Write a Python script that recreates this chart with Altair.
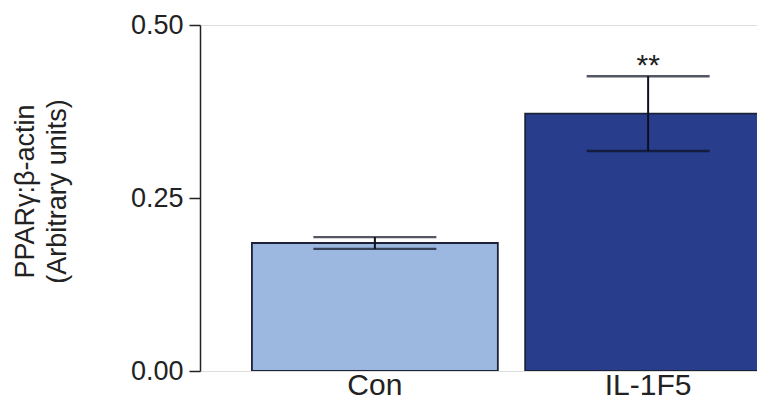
import altair as alt
import pandas as pd

groups = ["Con", "IL-1F5"]
means = [0.185, 0.372]
sems = [0.0085, 0.054]
stars = ["", "**"]
colors = ["#9db8e0", "#283d8c"]

df = pd.DataFrame({"group": groups, "mean": means, "sem": sems,
                   "star": stars, "color": colors})
df["lo"] = df["mean"] - df["sem"]
df["hi"] = df["mean"] + df["sem"]

FONT = "Liberation Sans"
INK = "#222222"

xscale = alt.Scale(domain=groups, range=[0, 623], paddingInner=0.1, paddingOuter=0.19)
xaxis = alt.Axis(title=None, labelAngle=0, ticks=False, tickSize=0, domain=False,
                 labelFontSize=30, labelPadding=23, labelBaseline="alphabetic",
                 labelFont=FONT, labelColor=INK, labelFontWeight="normal")
x = alt.X("group:N", scale=xscale, sort=groups, axis=xaxis)

yscale = alt.Scale(domain=[0, 0.5], nice=False)
yaxis = alt.Axis(title=["PPARγ:β-actin", "(Arbitrary units)"], values=[0, 0.25, 0.5],
                 format=".2f", grid=False, domainColor=INK, domainWidth=1.5,
                 tickColor=INK, tickWidth=1.5, tickSize=11, labelPadding=6,
                 labelFontSize=27, labelFont=FONT, labelColor=INK,
                 titleFont=FONT, titleFontSize=27, titleColor=INK,
                 titleFontWeight="normal", titleAngle=-90, titleAlign="center",
                 titleBaseline="bottom", titleX=-161, titleY=166, titleLineHeight=32)

base = alt.Chart(df)

bars = base.mark_bar(clip=True, stroke="#1b2238", strokeWidth=1.8).encode(
    x=x,
    y=alt.Y("mean:Q", scale=yscale, axis=yaxis),
    color=alt.Color("color:N", scale=None),
)

EB = "#0c0f20"
stem = base.mark_rule(color=EB, strokeWidth=2).encode(
    x=x, y=alt.Y("lo:Q", scale=yscale, axis=yaxis), y2="hi:Q"
)
cap_hi = base.mark_tick(color=EB, size=123, thickness=2.4, orient="horizontal").encode(
    x=x, y=alt.Y("hi:Q", scale=yscale, axis=yaxis)
)
cap_lo = base.mark_tick(color=EB, size=123, thickness=2.4, orient="horizontal").encode(
    x=x, y=alt.Y("lo:Q", scale=yscale, axis=yaxis)
)
star = base.mark_text(font=FONT, fontSize=30, baseline="alphabetic", dy=-1, color=INK).encode(
    x=x, y=alt.Y("hi:Q", scale=yscale, axis=yaxis), text="star:N"
)

chart = alt.layer(bars, stem, cap_hi, cap_lo, star).properties(
    width=557, height=346,
    autosize=alt.AutoSizeParams(type="none"),
    padding={"left": 192, "top": 17, "right": 0, "bottom": 30},
).configure_view(stroke=None).configure(background="white")

chart.save("out.html", embed_options={"renderer": "svg", "actions": False})
